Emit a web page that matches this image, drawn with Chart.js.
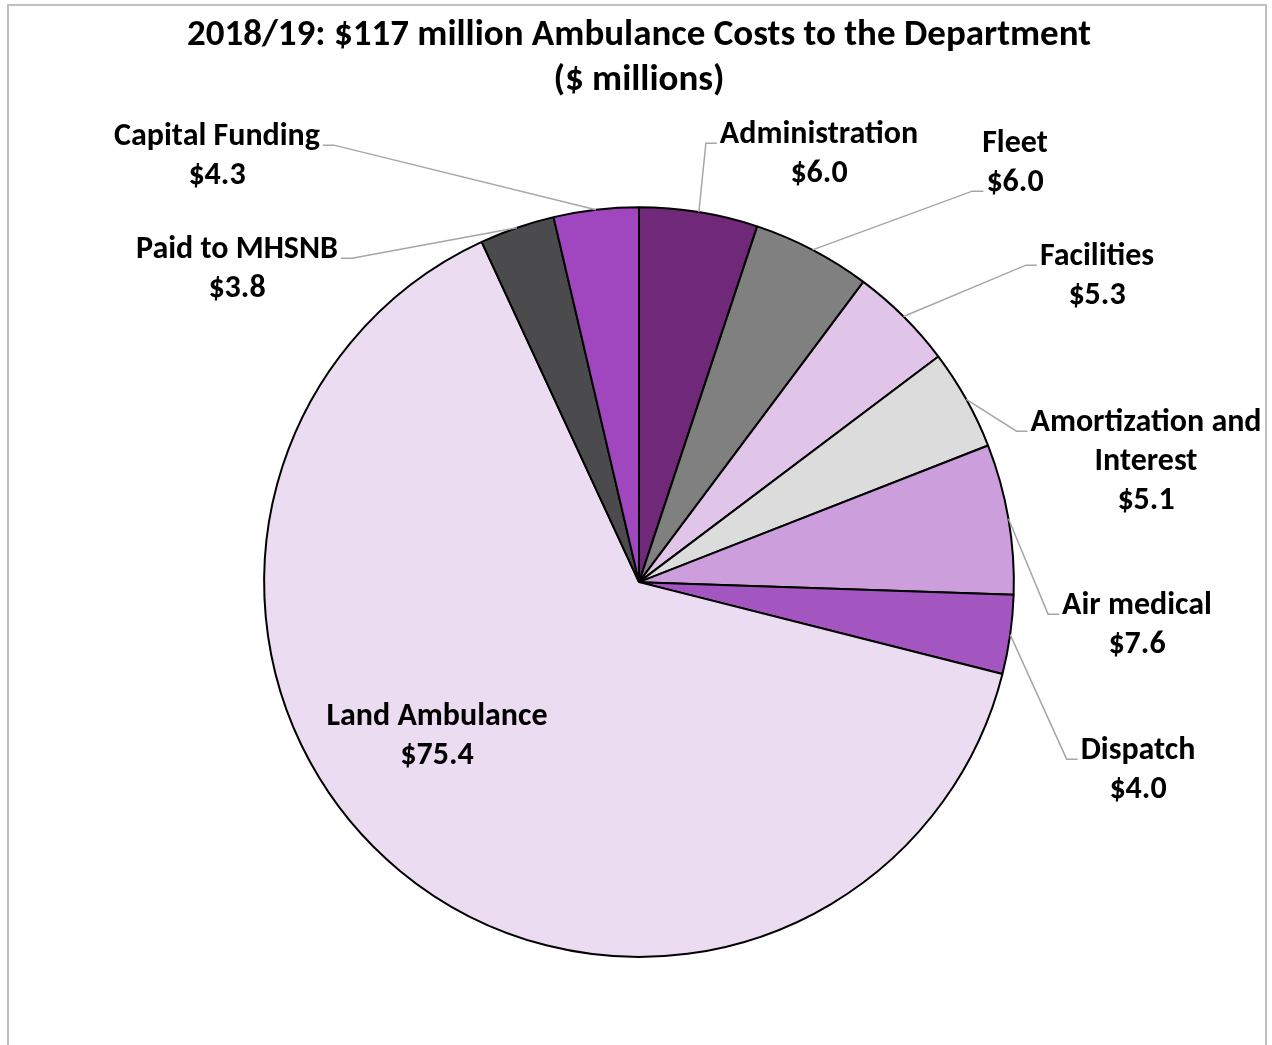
<!DOCTYPE html>
<html>
<head>
<meta charset="utf-8">
<title>Ambulance Costs 2018/19</title>
<script src="https://cdn.jsdelivr.net/npm/chart.js@4.4.1/dist/chart.umd.min.js"></script>
<style>
  html, body { margin: 0; padding: 0; background: #fff; overflow: hidden; }
  #frame {
    position: absolute; left: 7px; top: 4px; width: 1260px; height: 1100px;
    border: 2px solid #bfbfbf; box-sizing: border-box;
  }
  #wrap { position: absolute; left: 0; top: 0; width: 1272px; height: 1045px; }
</style>
</head>
<body>
<div id="frame"></div>
<div id="wrap"><canvas id="canvas"></canvas></div>
<script>
const categories = ['Administration', 'Fleet', 'Facilities', 'Amortization and Interest', 'Air medical', 'Dispatch', 'Land Ambulance', 'Paid to MHSNB', 'Capital Funding'];
const costs = [6.0, 6.0, 5.3, 5.1, 7.6, 4.0, 75.4, 3.8, 4.3];
const sliceColors = ['#702878', '#808080', '#e1c5e9', '#dcdcdc', '#cc9edb', '#a456c0', '#ebdcf1', '#4b4b4d', '#a046be'];
const titleLines = ['2018/19: $117 million Ambulance Costs to the Department', '($ millions)'];

const fontFamily = 'Carlito, Lato, "Open Sans", sans-serif';
const labelSize = 32;
const lineGap = 39;

// where each label sits, relative to the pie centre (first line centre)
const labelPlace = [
  { dx: 180, dy: -447, leader: true, elbow: 0 },
  { dx: 376, dy: -438, leader: true, elbow: 1 },
  { dx: 458, dy: -325, leader: true, elbow: 0 },
  { dx: 507, dy: -159, leader: true, elbow: 0, lines: ['Amortization and', 'Interest'] },
  { dx: 498, dy: 24, leader: true, elbow: 0 },
  { dx: 499, dy: 169, leader: true, elbow: 0 },
  { dx: -202, dy: 135, leader: false },
  { dx: -402, dy: -332, leader: true, elbow: 0 },
  { dx: -422, dy: -445, leader: true, elbow: 0 }
];

const sliceLabels = {
  id: 'sliceLabels',
  afterDatasetsDraw(chart) {
    const ctx = chart.ctx;
    const meta = chart.getDatasetMeta(0);
    ctx.save();
    ctx.font = 'bold ' + labelSize + 'px ' + fontFamily;
    ctx.textAlign = 'center';
    ctx.textBaseline = 'middle';
    meta.data.forEach((arc, i) => {
      const p = arc.getProps(['x', 'y', 'startAngle', 'endAngle', 'outerRadius'], true);
      const place = labelPlace[i];
      const lines = (place.lines || [categories[i]]).concat(['$' + costs[i].toFixed(1)]);
      const lx = p.x + place.dx;
      const ly = p.y + place.dy;
      if (place.leader) {
        const mid = (p.startAngle + p.endAngle) / 2;
        const ax = p.x + Math.cos(mid) * p.outerRadius;
        const ay = p.y + Math.sin(mid) * p.outerRadius;
        const w = ctx.measureText(lines[place.elbow]).width;
        const side = place.dx > 0 ? -1 : 1;
        const ey = ly + place.elbow * lineGap + 8;
        const e1 = lx + side * (w / 2 + 3);
        const e2 = e1 + side * 11;
        ctx.strokeStyle = '#a6a6a6';
        ctx.lineWidth = 1.5;
        ctx.beginPath();
        ctx.moveTo(e1, ey);
        ctx.lineTo(e2, ey);
        ctx.lineTo(ax, ay);
        ctx.stroke();
      }
      ctx.fillStyle = '#000';
      lines.forEach((t, k) => ctx.fillText(t, lx, ly + k * lineGap));
    });
    ctx.restore();
  }
};

new Chart(document.getElementById('canvas').getContext('2d'), {
  type: 'pie',
  data: {
    labels: categories,
    datasets: [{
      data: costs,
      backgroundColor: sliceColors,
      borderColor: '#000',
      borderWidth: 2
    }]
  },
  options: {
    responsive: true,
    maintainAspectRatio: false,
    animation: false,
    layout: { padding: { left: 6, right: 0, top: 0, bottom: 87 } },
    plugins: {
      legend: { display: false },
      tooltip: { enabled: false },
      title: {
        display: true,
        text: titleLines,
        color: '#000',
        font: { family: fontFamily, size: 37, weight: 'bold', lineHeight: 1.22 },
        padding: { top: 13, bottom: 103 }
      }
    }
  },
  plugins: [sliceLabels]
});
</script>
</body>
</html>
